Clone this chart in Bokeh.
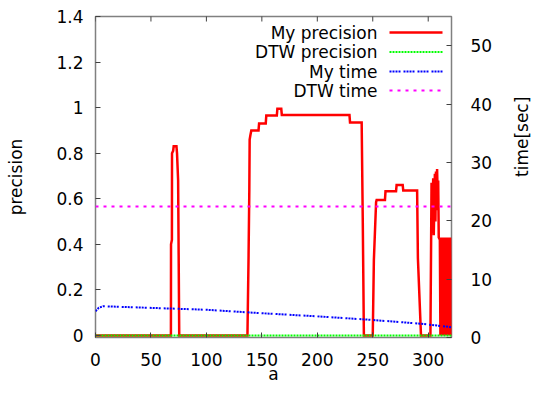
from bokeh.plotting import figure
from bokeh.models import (LinearAxis, Range1d, FixedTicker, NumeralTickFormatter,
                          Label, Arrow)
from bokeh.embed import file_html
from bokeh.resources import INLINE
import math

# ---------------- data ----------------
my_prec_a = [0, 68, 68.1, 68.9, 69, 70, 70.5, 73, 73.5, 74.5, 75.5,
             137, 138, 138.7, 139, 139.7, 140.5, 147, 147.5, 153.5, 154,
             163.5, 164, 167.5, 168, 229, 229.5, 240, 241, 242,
             250, 251, 253, 253.5, 261, 261.5, 271, 271.5, 277, 277.5,
             290, 290.7, 293.5,
             302, 303, 303.5, 304.5, 305, 306, 306.5, 307, 307.5, 308, 308.5,
             309, 309.5, 310.5,
             311, 312, 313, 314, 315, 316, 317, 318, 319, 320, 321]
my_prec_v = [0, 0, 0.40, 0.42, 0.80, 0.81, 0.83, 0.83, 0.80, 0.68, 0.0,
             0, 0.34, 0.64, 0.86, 0.88, 0.90, 0.90, 0.93, 0.93, 0.965,
             0.965, 0.995, 0.995, 0.968, 0.968, 0.935, 0.935, 0.50, 0.0,
             0, 0.33, 0.585, 0.595, 0.595, 0.633, 0.633, 0.66, 0.66, 0.636,
             0.636, 0.34, 0.0,
             0, 0.67, 0.45, 0.69, 0.44, 0.71, 0.50, 0.72, 0.55, 0.73, 0.62,
             0.68, 0.43, 0.42,
             0.0, 0.43, 0.0, 0.43, 0.0, 0.43, 0.0, 0.43, 0.0, 0.43, 0.0]

dtw_prec_a = [0, 321]
dtw_prec = [0, 0]

time_a = [0, 3, 7, 15, 48, 100, 150, 202, 248, 294, 321]
my_time = [4.5, 5.1, 5.36, 5.3, 5.09, 4.75, 4.16, 3.6, 3.03, 2.35, 1.76]

dtw_time_a = [0, 321]
dtw_time = [22.45, 22.45]

x_ticks = [0, 50, 100, 150, 200, 250, 300]
y_ticks = [0, 0.2, 0.4, 0.6, 0.8, 1.0, 1.2, 1.4]
y2_ticks = [0, 10, 20, 30, 40, 50]

legend_labels = ["My precision", "DTW precision", "My time", "DTW time"]
series_colors = ["#ff0000", "#00ff00", "#0000ff", "#ff00ff"]
series_dash = ["solid", "2 1", "2 1 2 1 2 1 2 3", "3 5"]
series_width = [2.5, 2, 2, 2]

FONT = "DejaVu Sans"
FS = "17px"

X_END = 321
Y_TOP = 1.4

# ---------------- figure ----------------
p = figure(width=545, height=396, output_backend="svg", toolbar_location=None,
           x_range=Range1d(0, X_END), y_range=Range1d(-0.009, Y_TOP),
           min_border_left=95, min_border_right=81, min_border_top=16,
           min_border_bottom=59)
p.extra_y_ranges = {"time": Range1d(0, 55)}
p.xgrid.visible = False
p.ygrid.visible = False
p.outline_line_color = "#808080"
p.outline_line_width = 1.5
p.background_fill_color = "white"
p.border_fill_color = "white"


def style_axis(ax, standoff):
    ax.axis_line_color = None
    ax.major_tick_in = 5
    ax.major_tick_out = 0
    ax.minor_tick_line_color = None
    ax.major_tick_line_color = "#404040"
    ax.major_tick_line_width = 1
    ax.major_label_text_font = FONT
    ax.major_label_text_font_size = FS
    ax.major_label_text_color = "black"
    ax.major_label_standoff = standoff
    ax.axis_label_text_font = FONT
    ax.axis_label_text_font_size = FS
    ax.axis_label_text_font_style = "normal"
    ax.axis_label_text_color = "black"


xa = p.xaxis[0]
xa.ticker = FixedTicker(ticks=x_ticks)
style_axis(xa, 15)
xa.axis_label = "a"
xa.axis_label_standoff = -5

ya = p.yaxis[0]
ya.ticker = FixedTicker(ticks=y_ticks)
ya.formatter = NumeralTickFormatter(format="0.[0]")
style_axis(ya, 12)
ya.axis_label = "precision"
ya.axis_label_standoff = 27

y2 = LinearAxis(y_range_name="time", ticker=FixedTicker(ticks=y2_ticks))
style_axis(y2, 19)
y2.axis_label = "time[sec]"
y2.axis_label_standoff = 27
try:
    y2.axis_label_orientation = math.pi / 2
except Exception:
    pass
p.add_layout(y2, "right")

# mirrored x ticks along the top border (inward)
p.scatter(x_ticks, [Y_TOP] * len(x_ticks), marker="dash", angle=math.pi / 2,
          size=10, line_color="#404040", line_width=1)

# ---------------- series ----------------
p.line(my_prec_a, my_prec_v, line_color=series_colors[0], line_width=series_width[0],
       line_join="miter")
p.line(dtw_prec_a, dtw_prec, line_color=series_colors[1], line_width=series_width[1],
       line_dash=series_dash[1])
p.line(time_a, my_time, line_color=series_colors[2], line_width=series_width[2],
       line_dash=series_dash[2], y_range_name="time")
p.line(dtw_time_a, dtw_time, line_color=series_colors[3], line_width=series_width[3],
       line_dash=series_dash[3], y_range_name="time")

# ---------------- legend (gnuplot style: text then sample) ----------------
row_y = [305, 285.5, 266, 247]
for lab, col, dash, w, yy in zip(legend_labels, series_colors, series_dash,
                                 series_width, row_y):
    p.add_layout(Label(x=282, y=yy, x_units="screen", y_units="screen", text=lab,
                       text_align="right", text_baseline="middle",
                       text_font=FONT, text_font_size=FS, text_color="black"))
    p.add_layout(Arrow(x_start=294, y_start=yy, x_end=347, y_end=yy,
                       start_units="screen", end_units="screen", end=None,
                       line_color=col, line_width=w, line_dash=dash))

open("out.html", "w").write(file_html(p, INLINE))
